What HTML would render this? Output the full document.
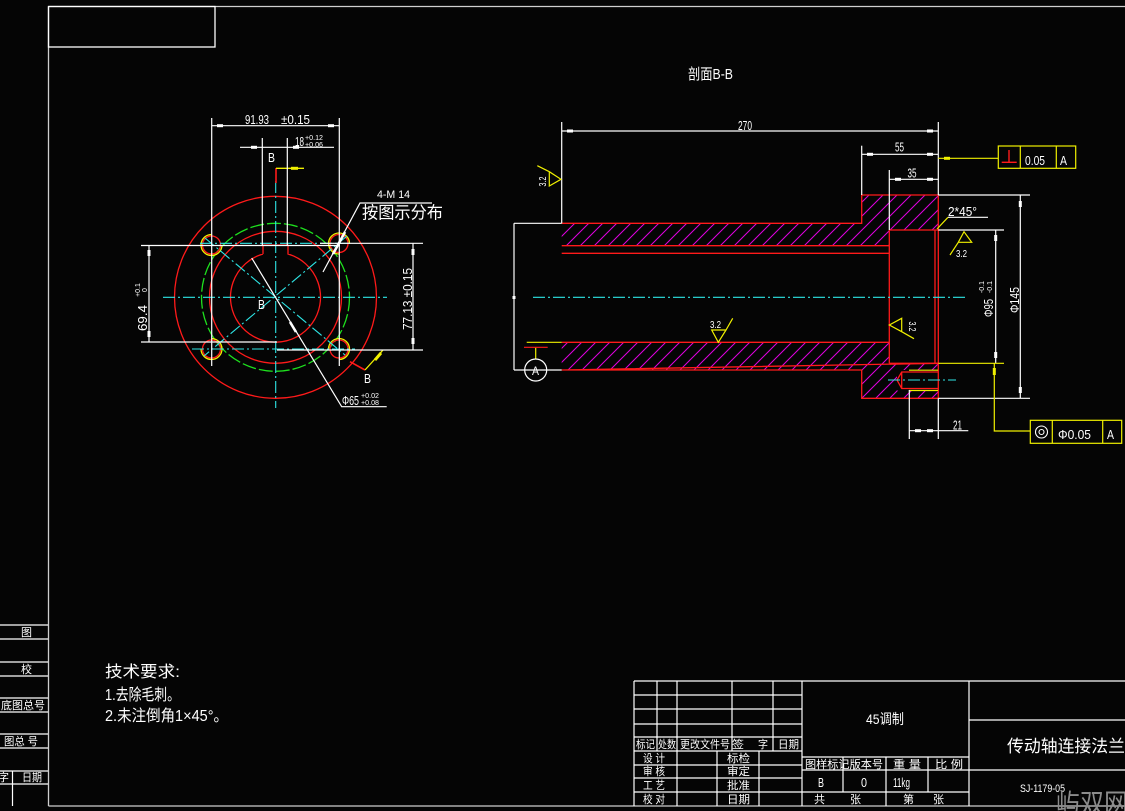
<!DOCTYPE html>
<html><head><meta charset="utf-8"><style>
html,body{margin:0;padding:0;background:#050505;}
svg{display:block;}
text{font-family:"Liberation Sans","Noto Sans CJK SC",sans-serif;fill:#fff;}
.c{font-family:"Liberation Sans","Noto Sans CJK SC","WenQuanYi Zen Hei",sans-serif;}
</style></head><body>
<svg width="1125" height="811" viewBox="0 0 1125 811" xmlns="http://www.w3.org/2000/svg">
<defs>
<pattern id="h" x="0" y="0" width="14" height="14" patternUnits="userSpaceOnUse">
<line x1="0" y1="14" x2="14" y2="0" stroke="#e000e0" stroke-width="1"/>
<line x1="-2" y1="2" x2="2" y2="-2" stroke="#e000e0" stroke-width="1"/>
<line x1="12" y1="16" x2="16" y2="12" stroke="#e000e0" stroke-width="1"/>
</pattern>
</defs>
<rect width="1125" height="811" fill="#050505"/>

<!-- Frame -->
<g stroke="#cfcfcf" stroke-width="1.3" fill="none">
<line x1="48.5" y1="6.5" x2="1125" y2="6.5"/>
<line x1="48.5" y1="6.5" x2="48.5" y2="806"/>
<line x1="48.5" y1="806" x2="1125" y2="806"/>
</g>
<rect x="48.5" y="6.5" width="166.5" height="40.5" fill="none" stroke="#fff" stroke-width="1.3"/>

<!-- Left margin table -->
<g stroke="#fff" stroke-width="1.2">
<line x1="0" y1="625" x2="48" y2="625"/><line x1="0" y1="639" x2="48" y2="639"/>
<line x1="0" y1="662" x2="48" y2="662"/><line x1="0" y1="676" x2="48" y2="676"/>
<line x1="0" y1="698" x2="48" y2="698"/><line x1="0" y1="712" x2="48" y2="712"/>
<line x1="0" y1="734" x2="48" y2="734"/><line x1="0" y1="748" x2="48" y2="748"/>
<line x1="0" y1="771" x2="48" y2="771"/><line x1="0" y1="784" x2="48" y2="784"/>
<line x1="12.5" y1="771" x2="12.5" y2="806"/>
</g>
<g class="c" font-size="11">
<text x="21" y="636">图</text>
<text x="21" y="673">校</text>
<text x="1" y="709" textLength="44" lengthAdjust="spacingAndGlyphs">底图总号</text>
<text x="4" y="745" textLength="34" lengthAdjust="spacingAndGlyphs">图总 号</text>
<text x="-2" y="781">字</text>
<text x="22" y="781" textLength="20" lengthAdjust="spacingAndGlyphs">日期</text>
</g>

<!-- Tech requirements -->
<g class="c" font-size="16">
<text x="105" y="677" textLength="75" lengthAdjust="spacingAndGlyphs">技术要求:</text>
<text x="105" y="700" textLength="75" lengthAdjust="spacingAndGlyphs">1.去除毛刺。</text>
<text x="105" y="721" textLength="123" lengthAdjust="spacingAndGlyphs">2.未注倒角1×45°。</text>
</g>

<!-- ============ LEFT VIEW ============ -->
<g fill="none" stroke-width="1.3">
<circle cx="275.5" cy="297.3" r="101" stroke="#ff1a1a"/>
<circle cx="275.5" cy="297.3" r="74" stroke="#1ee01e" stroke-dasharray="14 3"/>
<circle cx="275.5" cy="297.3" r="66" stroke="#ff1a1a"/>
<path d="M263,254 L263,245 L288,245 L288,254 A45,45 0 1,1 263,254" stroke="#ff1a1a"/>
<circle cx="211.5" cy="245" r="9" stroke="#ff1a1a"/>
<circle cx="339" cy="243.5" r="9" stroke="#ff1a1a"/>
<circle cx="211.5" cy="349" r="9" stroke="#ff1a1a"/>
<circle cx="339" cy="349" r="9" stroke="#ff1a1a"/>
<circle cx="211.5" cy="245" r="10.5" stroke="#f0f000" stroke-dasharray="49 17"/>
<circle cx="339" cy="243.5" r="10.5" stroke="#f0f000" stroke-dasharray="49 17" transform="rotate(90 339 243.5)"/>
<circle cx="211.5" cy="349" r="10.5" stroke="#f0f000" stroke-dasharray="49 17" transform="rotate(-90 211.5 349)"/>
<circle cx="339" cy="349" r="10.5" stroke="#f0f000" stroke-dasharray="49 17" transform="rotate(180 339 349)"/>
</g>
<g stroke="#2ee6e6" stroke-width="1.1" stroke-dasharray="12 3 2 3" fill="none">
<line x1="163" y1="297.3" x2="387" y2="297.3"/>
<line x1="275.7" y1="181" x2="275.7" y2="408"/>
<line x1="200" y1="243.3" x2="350" y2="243.3"/>
<line x1="192" y1="349" x2="355" y2="349"/>
<line x1="205" y1="238" x2="345" y2="355"/>
<line x1="347" y1="236" x2="204" y2="356"/>
</g>
<line x1="276" y1="168" x2="276" y2="183" stroke="#ff1a1a" stroke-width="1.6"/>
<line x1="276" y1="168.3" x2="304" y2="168.3" stroke="#f0f000" stroke-width="1.3"/>
<rect x="291" y="166.8" width="7" height="3" fill="#f0f000"/>
<line x1="350" y1="361.7" x2="365" y2="370" stroke="#ff1a1a" stroke-width="1.6"/>
<line x1="365" y1="370" x2="383" y2="350" stroke="#f0f000" stroke-width="1.3"/>
<line x1="375" y1="360" x2="381" y2="353" stroke="#f0f000" stroke-width="3"/>

<g stroke="#fff" stroke-width="1.2" fill="none">
<line x1="211.7" y1="125.7" x2="339.3" y2="125.7"/>
<line x1="211.7" y1="118" x2="211.7" y2="366"/>
<line x1="339.3" y1="118" x2="339.3" y2="366"/>
<line x1="240" y1="147.3" x2="334" y2="147.3"/>
<line x1="262.3" y1="138" x2="262.3" y2="245"/>
<line x1="287.3" y1="138" x2="287.3" y2="245"/>
<line x1="141" y1="245.5" x2="340" y2="245.5"/>
<line x1="320" y1="243.3" x2="423" y2="243.3"/>
<line x1="141" y1="342" x2="277" y2="342"/>
<line x1="277" y1="350" x2="423" y2="350"/>
<line x1="149" y1="245.5" x2="149" y2="342"/>
<line x1="413" y1="243.3" x2="413" y2="350"/>
<polyline points="323,272 360,203 432,203"/>
<polyline points="251.7,258 341.7,406.7 386.7,406.7"/>
</g>
<g fill="#fff">
<rect x="217" y="124.2" width="6" height="3"/><rect x="328" y="124.2" width="6" height="3"/>
<rect x="251" y="145.8" width="6" height="3"/><rect x="293" y="145.8" width="6" height="3"/>
<rect x="147.5" y="250" width="3" height="6"/><rect x="147.5" y="331" width="3" height="6"/>
<rect x="411.5" y="249" width="3" height="6"/><rect x="411.5" y="338" width="3" height="6"/>
</g>
<line x1="333" y1="254" x2="345" y2="232" stroke="#fff" stroke-width="2.6"/>
<line x1="290" y1="322" x2="296" y2="332" stroke="#fff" stroke-width="2.6"/>
<g font-size="13">
<text x="245" y="124" textLength="24" lengthAdjust="spacingAndGlyphs">91.93</text>
<text x="281" y="124" textLength="29" lengthAdjust="spacingAndGlyphs">±0.15</text>
<text x="295" y="146" textLength="9" lengthAdjust="spacingAndGlyphs">18</text>
<text x="268" y="162" textLength="7" lengthAdjust="spacingAndGlyphs">B</text>
<text x="258" y="309" textLength="7" lengthAdjust="spacingAndGlyphs">B</text>
<text x="364" y="383" textLength="7" lengthAdjust="spacingAndGlyphs">B</text>
<text x="342" y="405" textLength="17" lengthAdjust="spacingAndGlyphs">Φ65</text>
<text x="377" y="198" font-size="11" textLength="33" lengthAdjust="spacingAndGlyphs">4-M 14</text>
<text transform="translate(147,318) rotate(-90)" text-anchor="middle" textLength="26" lengthAdjust="spacingAndGlyphs">69.4</text>
<text transform="translate(412,299) rotate(-90)" text-anchor="middle" textLength="62" lengthAdjust="spacingAndGlyphs">77.13  ±0.15</text>
</g>
<g font-size="7">
<text x="305" y="140" textLength="18" lengthAdjust="spacingAndGlyphs">+0.12</text>
<text x="305" y="147" textLength="18" lengthAdjust="spacingAndGlyphs">+0.06</text>
<text x="361" y="398" textLength="18" lengthAdjust="spacingAndGlyphs">+0.02</text>
<text x="361" y="405" textLength="18" lengthAdjust="spacingAndGlyphs">+0.08</text>
<text transform="translate(140,290) rotate(-90)" text-anchor="middle">+0.1</text>
<text transform="translate(147,290) rotate(-90)" text-anchor="middle">0</text>
</g>
<text class="c" x="362" y="218.5" font-size="17" textLength="81" lengthAdjust="spacingAndGlyphs">按图示分布</text>

<!-- ============ SECTION VIEW ============ -->
<text class="c" x="688" y="79" font-size="15" textLength="45" lengthAdjust="spacingAndGlyphs">剖面B-B</text>

<path d="M561.7,223.3 H861.7 V195 H938.3 V230 H889.3 V245.7 H561.7 Z" fill="url(#h)"/>
<path d="M561.7,342.3 H889.3 V363.3 H938.3 V398.3 H861.7 V370 H561.7 Z M897,370 H938.3 V390.5 H897 Z" fill="url(#h)" fill-rule="evenodd"/>

<g stroke="#ff1a1a" stroke-width="1.3" fill="none">
<path d="M561.7,223.3 H861.7 V195 H938.3 V230 M938.3,363.3 V398.3 H861.7 V370 H561.7 Z"/>
<line x1="561.7" y1="245.7" x2="889.3" y2="245.7"/>
<line x1="561.7" y1="253.3" x2="889.3" y2="253.3"/>
<line x1="561.7" y1="342.3" x2="889.3" y2="342.3"/>
<line x1="889.3" y1="230" x2="889.3" y2="363.3"/>
<line x1="889.3" y1="230" x2="938.3" y2="230"/>
<line x1="889.3" y1="363.3" x2="938.3" y2="363.3"/>
<line x1="935" y1="230" x2="935" y2="363.3"/>
<line x1="938.3" y1="230" x2="938.3" y2="363.3"/>
<path d="M938.3,372 H901.7 L897,380 L901.7,388.5 H938.3 M901.7,372 V388.5"/>
</g>
<g stroke="#f0f000" stroke-width="1.2">
<line x1="909" y1="370.2" x2="938" y2="370.2"/>
<line x1="909" y1="390.5" x2="938" y2="390.5"/>
</g>
<g stroke="#2ee6e6" stroke-width="1.1" stroke-dasharray="12 3 2 3">
<line x1="533" y1="297.3" x2="967" y2="297.3"/>
<line x1="888" y1="380" x2="956" y2="380"/>
</g>

<g stroke="#fff" stroke-width="1.2" fill="none">
<line x1="561.7" y1="131" x2="938.3" y2="131"/>
<line x1="561.7" y1="122" x2="561.7" y2="223.3"/>
<line x1="938.3" y1="122" x2="938.3" y2="195"/>
<line x1="861.7" y1="154.3" x2="938.3" y2="154.3"/>
<line x1="861.7" y1="145.7" x2="861.7" y2="195"/>
<line x1="889.3" y1="179.3" x2="938.3" y2="179.3"/>
<line x1="889.3" y1="170" x2="889.3" y2="230"/>
<line x1="1020.3" y1="195" x2="1020.3" y2="398.3"/>
<line x1="938.3" y1="195" x2="1030" y2="195"/>
<line x1="938.3" y1="398.3" x2="1030" y2="398.3"/>
<line x1="995.7" y1="230" x2="995.7" y2="363.3"/>
<line x1="938.3" y1="230" x2="1004" y2="230"/>
<line x1="909.3" y1="430.7" x2="968.3" y2="430.7"/>
<line x1="909.3" y1="390" x2="909.3" y2="439"/>
<line x1="938.3" y1="398.3" x2="938.3" y2="439"/>
<line x1="514" y1="223.3" x2="514" y2="370"/>
<line x1="514" y1="223.3" x2="561.7" y2="223.3"/>
<line x1="514" y1="370" x2="561.7" y2="370"/>
<line x1="948" y1="217.3" x2="988" y2="217.3"/>
</g>
<g fill="#fff">
<rect x="567" y="129.5" width="6" height="3"/><rect x="927" y="129.5" width="6" height="3"/>
<rect x="867" y="152.8" width="6" height="3"/><rect x="927" y="152.8" width="6" height="3"/>
<rect x="895" y="177.8" width="6" height="3"/><rect x="927" y="177.8" width="6" height="3"/>
<rect x="1018.8" y="201" width="3" height="6"/><rect x="1018.8" y="387" width="3" height="6"/>
<rect x="994.2" y="235" width="3" height="6"/><rect x="994.2" y="352" width="3" height="6"/>
<rect x="915" y="429.2" width="6" height="3"/><rect x="927" y="429.2" width="6" height="3"/>
<rect x="512.5" y="296" width="3" height="3"/>
</g>
<g font-size="13">
<text x="738" y="130" textLength="14" lengthAdjust="spacingAndGlyphs">270</text>
<text x="895" y="151.5" textLength="9" lengthAdjust="spacingAndGlyphs">55</text>
<text x="907.5" y="177.5" textLength="9" lengthAdjust="spacingAndGlyphs">35</text>
<text x="948" y="216" textLength="29" lengthAdjust="spacingAndGlyphs">2*45°</text>
<text x="953" y="429.5" textLength="9" lengthAdjust="spacingAndGlyphs">21</text>
<text transform="translate(1019,300) rotate(-90)" text-anchor="middle" textLength="26" lengthAdjust="spacingAndGlyphs">Φ145</text>
<text transform="translate(993,308) rotate(-90)" text-anchor="middle" textLength="18" lengthAdjust="spacingAndGlyphs">Φ95</text>
</g>
<g font-size="7">
<text transform="translate(984,287) rotate(-90)" text-anchor="middle">-0.1</text>
<text transform="translate(992,287) rotate(-90)" text-anchor="middle">-0.1</text>
</g>

<g stroke="#f0f000" stroke-width="1.2" fill="none">
<line x1="938.3" y1="363.3" x2="1004" y2="363.3"/>
<line x1="937" y1="229" x2="948" y2="217.3"/>
<line x1="938.3" y1="158.3" x2="998.3" y2="158.3"/>
<polyline points="994.3,363.3 994.3,431 1030.3,431"/>
<rect x="998.3" y="146" width="77.4" height="22.3"/>
<line x1="1020.3" y1="146" x2="1020.3" y2="168.3"/>
<line x1="1056.3" y1="146" x2="1056.3" y2="168.3"/>
<rect x="1030.3" y="420.3" width="91.4" height="23"/>
<line x1="1052.3" y1="420.3" x2="1052.3" y2="443.3"/>
<line x1="1102.7" y1="420.3" x2="1102.7" y2="443.3"/>
<polyline points="537.3,165.7 549.3,171.7 561,179.3 549.3,186 549.3,171.7"/>
<polyline points="732.7,318.3 726,330 711.7,330 718.3,342.3 726,330"/>
<polyline points="914,338.7 901.7,331.7 889.3,325 901.7,318.3 901.7,331.7"/>
<polyline points="950,255 958.3,242.3 964,231.7 971.7,242.3 958.3,242.3"/>
<line x1="535.7" y1="347.7" x2="535.7" y2="359"/>
<line x1="526.7" y1="342.3" x2="561.7" y2="342.3"/>
</g>
<g fill="#f0f000">
<rect x="944" y="156.8" width="6" height="3"/>
<rect x="992.8" y="368" width="3" height="7"/>
</g>
<line x1="524" y1="347.3" x2="547.7" y2="347.3" stroke="#ff1a1a" stroke-width="1.2"/>
<circle cx="535.7" cy="370" r="11" fill="none" stroke="#fff" stroke-width="1.2"/>
<text x="532" y="375" font-size="12" textLength="7" lengthAdjust="spacingAndGlyphs">A</text>
<g stroke="#ff1a1a" stroke-width="1.4">
<line x1="1001.7" y1="162.3" x2="1016.7" y2="162.3"/>
<line x1="1009" y1="150" x2="1009" y2="162.3"/>
</g>
<g font-size="13">
<text x="1025" y="165" textLength="20" lengthAdjust="spacingAndGlyphs">0.05</text>
<text x="1060" y="165" textLength="7" lengthAdjust="spacingAndGlyphs">A</text>
<text x="1058" y="439" textLength="33" lengthAdjust="spacingAndGlyphs">Φ0.05</text>
<text x="1107" y="439" textLength="7" lengthAdjust="spacingAndGlyphs">A</text>
</g>
<circle cx="1041.5" cy="432" r="6" fill="none" stroke="#fff" stroke-width="1.1"/>
<circle cx="1041.5" cy="432" r="2.5" fill="none" stroke="#fff" stroke-width="1.1"/>
<g font-size="10">
<text transform="translate(546,181.5) rotate(-90)" text-anchor="middle" textLength="10" lengthAdjust="spacingAndGlyphs">3.2</text>
<text x="710" y="328" textLength="11" lengthAdjust="spacingAndGlyphs">3.2</text>
<text transform="translate(909,326.5) rotate(90)" text-anchor="middle" textLength="10" lengthAdjust="spacingAndGlyphs">3.2</text>
<text x="956" y="257" textLength="11" lengthAdjust="spacingAndGlyphs">3.2</text>
</g>

<!-- ============ TITLE BLOCK ============ -->
<g stroke="#fff" stroke-width="1.2" fill="none">
<line x1="634" y1="681" x2="1125" y2="681"/>
<line x1="634" y1="681" x2="634" y2="806"/>
<line x1="634" y1="695" x2="802" y2="695"/>
<line x1="634" y1="709" x2="802" y2="709"/>
<line x1="634" y1="724" x2="802" y2="724"/>
<line x1="634" y1="737" x2="802" y2="737"/>
<line x1="634" y1="751" x2="802" y2="751"/>
<line x1="634" y1="765" x2="802" y2="765"/>
<line x1="634" y1="778" x2="802" y2="778"/>
<line x1="634" y1="792" x2="802" y2="792"/>
<line x1="657" y1="681" x2="657" y2="751"/>
<line x1="677" y1="681" x2="677" y2="806"/>
<line x1="732" y1="681" x2="732" y2="751"/>
<line x1="773" y1="681" x2="773" y2="751"/>
<line x1="717" y1="751" x2="717" y2="806"/>
<line x1="759" y1="751" x2="759" y2="806"/>
<line x1="802" y1="681" x2="802" y2="806"/>
<line x1="802" y1="757" x2="969" y2="757"/>
<line x1="802" y1="770" x2="969" y2="770"/>
<line x1="802" y1="792" x2="969" y2="792"/>
<line x1="843" y1="757" x2="843" y2="792"/>
<line x1="886" y1="757" x2="886" y2="806"/>
<line x1="928" y1="757" x2="928" y2="792"/>
<line x1="969" y1="681" x2="969" y2="806"/>
<line x1="969" y1="720" x2="1125" y2="720"/>
<line x1="969" y1="770" x2="1125" y2="770"/>
</g>
<g class="c" font-size="11">
<text x="636" y="748" textLength="19" lengthAdjust="spacingAndGlyphs">标记</text>
<text x="658" y="748" textLength="18" lengthAdjust="spacingAndGlyphs">处数</text>
<text x="680" y="748" textLength="50" lengthAdjust="spacingAndGlyphs">更改文件号</text>
<text x="732" y="748" textLength="12" lengthAdjust="spacingAndGlyphs">签</text>
<text x="758" y="748" textLength="10" lengthAdjust="spacingAndGlyphs">字</text>
<text x="778" y="748" textLength="21" lengthAdjust="spacingAndGlyphs">日期</text>
<text x="643" y="762" textLength="22" lengthAdjust="spacingAndGlyphs">设 计</text>
<text x="727" y="762" textLength="23" lengthAdjust="spacingAndGlyphs">标检</text>
<text x="643" y="775" textLength="22" lengthAdjust="spacingAndGlyphs">审 核</text>
<text x="727" y="775" textLength="23" lengthAdjust="spacingAndGlyphs">审定</text>
<text x="643" y="789" textLength="22" lengthAdjust="spacingAndGlyphs">工 艺</text>
<text x="727" y="789" textLength="23" lengthAdjust="spacingAndGlyphs">批准</text>
<text x="643" y="803" textLength="22" lengthAdjust="spacingAndGlyphs">校 对</text>
<text x="727" y="803" textLength="23" lengthAdjust="spacingAndGlyphs">日期</text>
<text x="805" y="768" textLength="78" lengthAdjust="spacingAndGlyphs">图样标记版本号</text>
<text x="893" y="768" textLength="28" lengthAdjust="spacingAndGlyphs">重 量</text>
<text x="935" y="768" textLength="28" lengthAdjust="spacingAndGlyphs">比 例</text>
<text x="814" y="803">共</text>
<text x="850" y="803">张</text>
<text x="903" y="803">第</text>
<text x="933" y="803">张</text>
</g>
<text class="c" x="866" y="724" font-size="14" textLength="38" lengthAdjust="spacingAndGlyphs">45调制</text>
<g font-size="13">
<text x="818" y="787" textLength="6" lengthAdjust="spacingAndGlyphs">B</text>
<text x="861" y="787" textLength="6" lengthAdjust="spacingAndGlyphs">0</text>
<text x="893" y="787" textLength="17" lengthAdjust="spacingAndGlyphs">11kg</text>
</g>
<text class="c" x="1007" y="752" font-size="17" textLength="118" lengthAdjust="spacingAndGlyphs">传动轴连接法兰</text>
<text x="1020" y="792" font-size="11" textLength="45" lengthAdjust="spacingAndGlyphs">SJ-1179-05</text>
<text class="c" x="1056" y="813" font-size="27" fill="#8c8c8c" style="fill:#8c8c8c" textLength="72" lengthAdjust="spacingAndGlyphs">屿双网</text>
</svg>
</body></html>
